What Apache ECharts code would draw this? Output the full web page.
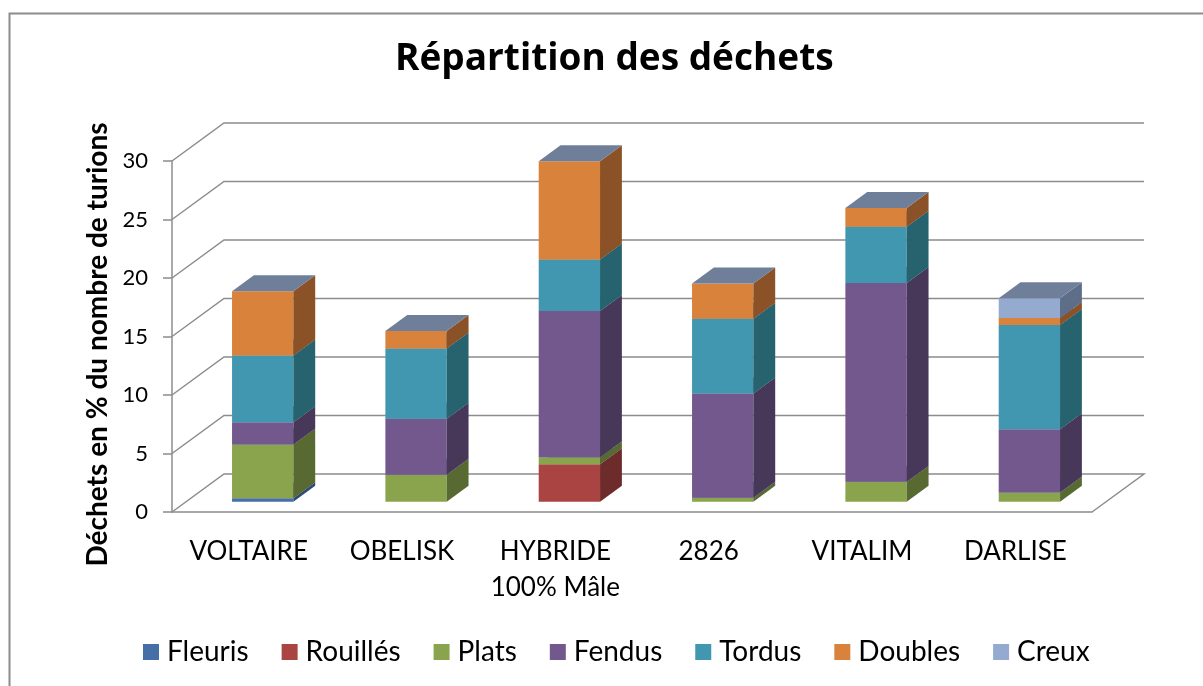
<!DOCTYPE html>
<html>
<head>
<meta charset="utf-8">
<script src="https://cdn.jsdelivr.net/npm/echarts@6/dist/echarts.min.js"></script>
<style>
  html, body { margin: 0; padding: 0; background: #fff; }
  #chart { width: 1203px; height: 686px; }
</style>
</head>
<body>
<div id="chart"></div>
<script>
// données
var categories = ['VOLTAIRE', 'OBELISK', 'HYBRIDE\n100% Mâle', '2826', 'VITALIM', 'DARLISE'];
var fleuris  = [0.3, 0, 0, 0, 0, 0];
var rouilles = [0, 0, 3.2, 0, 0, 0];
var plats    = [4.6, 2.3, 0.6, 0.35, 1.7, 0.8];
var fendus   = [1.9, 4.8, 12.5, 8.9, 17.0, 5.4];
var tordus   = [5.7, 6.0, 4.4, 6.4, 4.8, 8.9];
var doubles  = [5.5, 1.5, 8.4, 3.0, 1.6, 0.6];
var creux    = [0, 0, 0, 0, 0, 1.7];
var yTicks   = [0, 5, 10, 15, 20, 25, 30];

var seriesNames = ['Fleuris', 'Rouillés', 'Plats', 'Fendus', 'Tordus', 'Doubles', 'Creux'];
var seriesValues = [fleuris, rouilles, plats, fendus, tordus, doubles, creux];
var frontColors = ['#4470A6', '#A94442', '#8AA44D', '#73588D', '#4297B0', '#D9823B', '#94AACF'];
var sideColors  = ['#2E4C73', '#6E2B2B', '#586A31', '#47385A', '#27636F', '#8A5226', '#5E6E88'];
var topColor = '#6F7F9A';
var gridColor = '#8c8c8c';

// profondeur de la vue 3D (en pixels)
var DEPTH = [52, -38];
var FRONT = 0.27, THICK = 0.42;

var chartDom = document.getElementById('chart');
var myChart = echarts.init(chartDom);

function renderGrid(params, api) {
  var cs = params.coordSys;
  var v = api.value(1);
  var y = api.coord([0, v])[1];
  var pts = [[cs.x, y], [cs.x + DEPTH[0], y + DEPTH[1]], [cs.x + cs.width + DEPTH[0], y + DEPTH[1]]];
  if (v === 0) pts.push([cs.x + cs.width, y]);
  return {
    type: 'polyline',
    shape: { points: pts },
    style: { stroke: gridColor, lineWidth: 1.5, fill: null }
  };
}

function makeRender(idx) {
  return function (params, api) {
    var c = api.value(0), y0 = api.value(1), y1 = api.value(2);
    if (y1 - y0 <= 0) return;
    var pb = api.coord([c, y0]);
    var pt = api.coord([c, y1]);
    var bw = api.size([1, 0])[0] * 0.40;
    var fx = DEPTH[0] * FRONT, fy = DEPTH[1] * FRONT;
    var dx = DEPTH[0] * THICK, dy = DEPTH[1] * THICK;
    var xl = pb[0] - bw / 2 + fx, xr = xl + bw;
    var yb = pb[1] + fy, yt = pt[1] + fy;
    return {
      type: 'group',
      children: [
        { type: 'polygon', shape: { points: [[xl, yb], [xr, yb], [xr, yt], [xl, yt]] }, style: { fill: frontColors[idx] } },
        { type: 'polygon', shape: { points: [[xr, yb], [xr + dx, yb + dy], [xr + dx, yt + dy], [xr, yt]] }, style: { fill: sideColors[idx] } },
        { type: 'polygon', shape: { points: [[xl, yt], [xr, yt], [xr + dx, yt + dy], [xl + dx, yt + dy]] }, style: { fill: topColor } }
      ]
    };
  };
}

var series = [{
  type: 'custom',
  silent: true,
  z: 1,
  renderItem: renderGrid,
  data: yTicks.map(function (v) { return [0, v]; })
}];

var base = categories.map(function () { return 0; });
seriesValues.forEach(function (vals, k) {
  var data = vals.map(function (v, i) {
    var d = [i, base[i], base[i] + v];
    base[i] += v;
    return d;
  });
  series.push({
    name: seriesNames[k],
    type: 'custom',
    z: 2,
    itemStyle: { color: frontColors[k] },
    encode: { x: 0, y: [1, 2] },
    renderItem: makeRender(k),
    data: data
  });
});

var option = {
  animation: false,
  textStyle: { fontFamily: 'Lato' },
  graphic: [{
    type: 'rect',
    left: 7, top: 11,
    shape: { width: 1300, height: 800 },
    style: { fill: 'none', stroke: gridColor, lineWidth: 2 }
  }],
  title: {
    text: 'Répartition des déchets',
    left: 390,
    top: 36,
    textStyle: { fontFamily: 'Open Sans', fontSize: 37, fontWeight: 'bold', color: '#000' }
  },
  legend: {
    data: seriesNames,
    left: 138,
    top: 633,
    icon: 'rect',
    itemWidth: 16,
    itemHeight: 16,
    itemGap: 33,
    textStyle: { fontFamily: 'Lato', fontSize: 28, color: '#000', padding: [0, 0, 0, 3] }
  },
  grid: { left: 172, right: 111, top: 161, bottom: 174 },
  xAxis: {
    type: 'category',
    data: categories,
    axisLine: { lineStyle: { color: gridColor, width: 1.5 } },
    axisTick: { length: 9, lineStyle: { color: gridColor, width: 1.5 } },
    axisLabel: { color: '#000', fontFamily: 'Lato', fontSize: 26, margin: 22, lineHeight: 36, interval: 0 }
  },
  yAxis: {
    type: 'value',
    min: 0, max: 30, interval: 5,
    name: 'Déchets en % du nombre de turions',
    nameLocation: 'middle',
    nameGap: 60,
    nameTextStyle: { color: '#000', fontFamily: 'Lato', fontSize: 28, fontWeight: 'bold', padding: [0, 16, 0, 0] },
    axisLine: { show: true, lineStyle: { color: gridColor, width: 1.5 } },
    axisTick: { show: true, length: 9, lineStyle: { color: gridColor, width: 1.5 } },
    axisLabel: { color: '#000', fontFamily: 'Lato', fontSize: 22, margin: 24 },
    splitLine: { show: false }
  },
  series: series
};

option && myChart.setOption(option);
</script>
</body>
</html>
